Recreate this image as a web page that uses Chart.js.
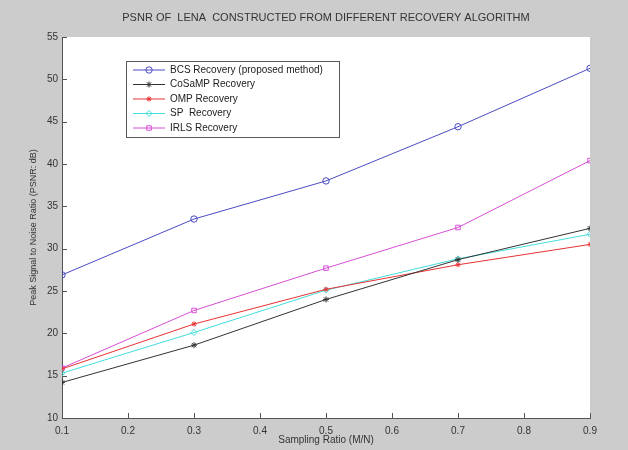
<!DOCTYPE html>
<html>
<head>
<meta charset="utf-8">
<script src="https://cdn.jsdelivr.net/npm/chart.js@4/dist/chart.umd.min.js"></script>
<style>
  html, body { margin: 0; padding: 0; background: #cccccc; }
  #wrap { width: 628px; height: 450px; }
</style>
</head>
<body>
<div id="wrap"><canvas id="psnrChart" width="628" height="450"></canvas></div>
<script>
// Sampling ratios (x) and PSNR values (dB) per recovery algorithm
const samplingRatio = [0.1, 0.3, 0.5, 0.7, 0.9];
const bcsPsnr    = [26.9, 33.5, 38.0, 44.4, 51.3];
const cosampPsnr = [14.2, 18.6, 24.0, 28.7, 32.4];
const ompPsnr    = [15.8, 21.1, 25.2, 28.1, 30.5];
const spPsnr     = [15.3, 20.1, 25.1, 28.8, 31.7];
const irlsPsnr   = [15.9, 22.7, 27.7, 32.5, 40.4];

const seriesLabels = [
    'BCS Recovery (proposed method)',
    'CoSaMP Recovery',
    'OMP Recovery',
    'SP  Recovery',
    'IRLS Recovery'
];

const chartTitle = 'PSNR OF  LENA  CONSTRUCTED FROM DIFFERENT RECOVERY ALGORITHM';

const FONT = 'Liberation Sans, Arial, sans-serif';
const TEXT = '#333333';

const toPoints = vals => vals.map((v, i) => ({ x: samplingRatio[i], y: v }));

function makeSet(label, vals, color, style, radius) {
    return {
        label: label,
        data: toPoints(vals),
        borderColor: color,
        backgroundColor: 'rgba(0,0,0,0)',
        pointBorderColor: color,
        pointBackgroundColor: 'rgba(0,0,0,0)',
        pointStyle: style,
        pointRadius: radius,
        pointBorderWidth: 1,
        borderWidth: 1,
        tension: 0
    };
}

const datasets = [
    makeSet(seriesLabels[0], bcsPsnr, '#4b4bc4', 'circle', 3.2),
    makeSet(seriesLabels[1], cosampPsnr, '#333333', 'star', 3),
    makeSet(seriesLabels[2], ompPsnr, '#e63232', 'star', 2.6),
    makeSet(seriesLabels[3], spPsnr, '#45dcdc', 'rectRot', 3),
    makeSet(seriesLabels[4], irlsPsnr, '#d64fd6', 'rect', 3.2)
];

// grey figure + white axes background, matlab style, title over the axes
const backdrop = {
    id: 'backdrop',
    beforeDraw(chart) {
        const { ctx, chartArea: a } = chart;
        ctx.save();
        ctx.fillStyle = '#cccccc';
        ctx.fillRect(0, 0, chart.width, chart.height);
        ctx.fillStyle = '#ffffff';
        ctx.fillRect(a.left, a.top, a.right - a.left, a.bottom - a.top);
        ctx.fillStyle = TEXT;
        ctx.font = '11px ' + FONT;
        ctx.textAlign = 'center';
        ctx.textBaseline = 'middle';
        ctx.fillText(chartTitle, (a.left + a.right) / 2, 18);
        ctx.restore();
    }
};

// inward tick marks on bottom and left axes
const innerTicks = {
    id: 'innerTicks',
    beforeDatasetsDraw(chart) {
        const { ctx, chartArea: a, scales } = chart;
        ctx.save();
        ctx.strokeStyle = '#555555';
        ctx.lineWidth = 1;
        ctx.beginPath();
        scales.x.ticks.forEach(t => {
            const px = Math.round(scales.x.getPixelForValue(t.value)) + 0.5;
            ctx.moveTo(px, a.bottom);
            ctx.lineTo(px, a.bottom - 5);
        });
        scales.y.ticks.forEach(t => {
            const py = Math.round(scales.y.getPixelForValue(t.value)) + 0.5;
            ctx.moveTo(a.left, py);
            ctx.lineTo(a.left + 5, py);
        });
        ctx.stroke();
        ctx.restore();
    }
};

// boxed legend in upper left of the axes
const boxLegend = {
    id: 'boxLegend',
    afterDraw(chart) {
        const { ctx } = chart;
        const x0 = 126, y0 = 61, w = 213, h = 76;
        const rowH = 14.5;
        ctx.save();
        ctx.fillStyle = '#ffffff';
        ctx.fillRect(x0, y0, w, h);
        ctx.strokeStyle = '#5a5a5a';
        ctx.lineWidth = 1;
        ctx.strokeRect(x0 + 0.5, y0 + 0.5, w, h);
        ctx.font = '10px ' + FONT;
        ctx.textBaseline = 'middle';
        chart.data.datasets.forEach((ds, i) => {
            const y = y0 + 9 + i * rowH;
            ctx.strokeStyle = ds.borderColor;
            ctx.lineWidth = 1;
            ctx.beginPath();
            ctx.moveTo(133, y);
            ctx.lineTo(165, y);
            ctx.stroke();
            ctx.fillStyle = ds.pointBackgroundColor;
            if (Chart.helpers && Chart.helpers.drawPoint) {
                Chart.helpers.drawPoint(ctx, {
                    pointStyle: ds.pointStyle, radius: ds.pointRadius,
                    borderWidth: 1, rotation: 0
                }, 149, y);
            }
            ctx.fillStyle = '#222222';
            ctx.fillText(ds.label, 170, y);
        });
        ctx.restore();
    }
};

new Chart(document.getElementById('psnrChart'), {
    type: 'line',
    data: { datasets: datasets },
    options: {
        responsive: false,
        animation: false,
        layout: { padding: { top: 37, right: 38, bottom: 0, left: 0 } },
        plugins: {
            legend: { display: false },
            tooltip: { enabled: false },
            title: { display: false }
        },
        scales: {
            x: {
                type: 'linear',
                min: 0.1,
                max: 0.9,
                afterFit(s) { s.height = 32; },
                ticks: {
                    stepSize: 0.1,
                    color: TEXT,
                    padding: 7,
                    maxRotation: 0,
                    font: { family: FONT, size: 10 },
                    callback: v => Number(v).toFixed(1)
                },
                grid: { display: false, drawTicks: false },
                border: { display: true, color: '#555555', width: 1 },
                title: {
                    display: true,
                    text: 'Sampling Ratio (M/N)',
                    color: TEXT,
                    font: { family: FONT, size: 10 },
                    padding: { top: 0, bottom: 4 }
                }
            },
            y: {
                min: 10,
                max: 55,
                afterFit(s) { s.width = 62; },
                ticks: {
                    stepSize: 5,
                    color: TEXT,
                    padding: 4,
                    font: { family: FONT, size: 10 }
                },
                grid: { display: false, drawTicks: false },
                border: { display: true, color: '#555555', width: 1 },
                title: {
                    display: true,
                    text: 'Peak Signal to Noise Ratio (PSNR: dB)',
                    color: TEXT,
                    font: { family: FONT, size: 9 },
                    padding: { top: 28, bottom: 0 }
                }
            }
        }
    },
    plugins: [backdrop, innerTicks, boxLegend]
});
</script>
</body>
</html>
